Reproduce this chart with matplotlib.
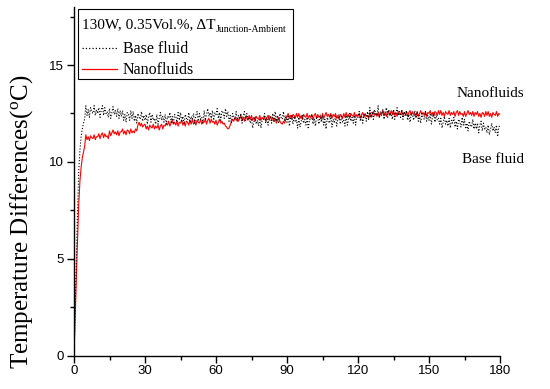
import numpy as np
import matplotlib
matplotlib.use("Agg")
import matplotlib.pyplot as plt
from matplotlib.lines import Line2D
from matplotlib.patches import Rectangle
from matplotlib.transforms import Affine2D

plt.rcParams['mathtext.fontset'] = 'custom'
plt.rcParams['mathtext.rm'] = 'Liberation Serif'
plt.rcParams['mathtext.it'] = 'Liberation Serif:italic'

sample_interval = 0.5  # seconds between samples

# Base fluid temperature difference, 0.5 s sampling, 0..180 s
base_fluid = [
    0.0, 2.5, 5.0, 7.5, 9.5, 10.6, 11.3, 11.7, 12.0, 12.2,
    12.9, 12.4, 12.7, 12.3, 12.8, 12.6, 12.5, 12.9, 12.4, 12.7,
    12.5, 12.8, 12.3, 12.7, 12.9, 12.4, 12.8, 12.5, 12.6, 12.3,
    12.75, 12.25, 12.55, 12.85, 12.45, 12.65, 12.35, 12.75, 12.25, 12.65,
    12.35, 12.65, 12.15, 12.45, 12.05, 12.55, 12.45, 12.15, 12.65, 12.25,
    12.6, 12.1, 12.4, 12.0, 12.5, 12.3, 12.2, 12.6, 12.1, 12.4,
    12.15, 12.45, 11.95, 12.35, 12.55, 12.05, 12.45, 12.15, 12.25, 11.95,
    12.45, 11.95, 12.25, 12.55, 12.15, 12.35, 12.05, 12.45, 11.95, 12.35,
    12.25, 12.55, 12.05, 12.35, 11.95, 12.45, 12.35, 12.05, 12.55, 12.15,
    12.55, 12.05, 12.35, 11.95, 12.45, 12.25, 12.15, 12.55, 12.05, 12.35,
    12.2, 12.5, 12.0, 12.4, 12.6, 12.1, 12.5, 12.2, 12.3, 12.0,
    12.65, 12.15, 12.45, 12.75, 12.35, 12.55, 12.25, 12.65, 12.15, 12.55,
    12.45, 12.75, 12.25, 12.55, 12.15, 12.65, 12.55, 12.25, 12.75, 12.35,
    12.6, 12.1, 12.4, 12.0, 12.5, 12.3, 12.2, 12.6, 12.1, 12.4,
    12.2, 12.5, 12.0, 12.4, 12.6, 12.1, 12.5, 12.2, 12.3, 12.0,
    12.25, 11.75, 12.05, 12.35, 11.95, 12.15, 11.85, 12.25, 11.75, 12.15,
    12.2, 12.5, 12.0, 12.3, 11.9, 12.4, 12.3, 12.0, 12.5, 12.1,
    12.6, 12.1, 12.4, 12.0, 12.5, 12.3, 12.2, 12.6, 12.1, 12.4,
    12.05, 12.35, 11.85, 12.25, 12.45, 11.95, 12.35, 12.05, 12.15, 11.75,
    12.3, 11.8, 12.1, 12.4, 12.0, 12.2, 11.9, 12.3, 11.7, 12.2,
    12.15, 12.45, 11.95, 12.25, 11.85, 12.35, 12.25, 11.95, 12.45, 12.05,
    12.4, 11.9, 12.2, 11.7, 12.3, 12.1, 12.0, 12.4, 11.8, 12.2,
    12.05, 12.35, 11.85, 12.25, 12.45, 11.95, 12.35, 12.05, 12.15, 11.85,
    12.4, 11.9, 12.2, 12.5, 12.1, 12.3, 12.0, 12.4, 11.9, 12.3,
    12.3, 12.6, 12.1, 12.4, 12.0, 12.5, 12.4, 12.1, 12.6, 12.2,
    12.8, 12.3, 12.6, 12.2, 12.7, 12.5, 12.4, 12.9, 12.3, 12.6,
    12.4, 12.7, 12.2, 12.6, 12.8, 12.3, 12.7, 12.4, 12.5, 12.2,
    12.7, 12.2, 12.5, 12.8, 12.4, 12.6, 12.3, 12.7, 12.2, 12.6,
    12.35, 12.65, 12.15, 12.45, 12.05, 12.55, 12.45, 12.15, 12.65, 12.25,
    12.6, 12.1, 12.4, 12.0, 12.5, 12.3, 12.2, 12.6, 12.1, 12.4,
    12.15, 12.45, 11.95, 12.35, 12.55, 12.05, 12.45, 12.15, 12.25, 11.95,
    12.25, 11.75, 12.05, 12.35, 11.95, 12.15, 11.85, 12.25, 11.75, 12.15,
    12.0, 12.3, 11.8, 12.1, 11.7, 12.2, 12.1, 11.8, 12.3, 11.9,
    12.2, 11.7, 12.0, 11.6, 12.1, 11.9, 11.8, 12.2, 11.7, 12.0,
    11.7, 12.0, 11.5, 11.9, 12.1, 11.6, 12.0, 11.7, 11.8, 11.5,
    11.9, 11.4, 11.7, 12.0, 11.6, 11.8, 11.5, 11.9, 11.3, 11.8,
    11.9,
]

# Nanofluid temperature difference, 0.5 s sampling, 0..180 s
nanofluid = [
    0.0, 2.0, 4.0, 6.0, 7.8, 9.0, 9.7, 10.2, 10.5, 10.8,
    11.4, 11.15, 11.3, 11.1, 11.35, 11.25, 11.2, 11.4, 11.15, 11.3,
    11.3, 11.45, 11.2, 11.4, 11.5, 11.25, 11.45, 11.3, 11.35, 11.2,
    11.6, 11.35, 11.5, 11.65, 11.45, 11.55, 11.4, 11.6, 11.35, 11.55,
    11.55, 11.7, 11.45, 11.6, 11.4, 11.65, 11.6, 11.45, 11.7, 11.5,
    11.6, 11.5, 11.7, 11.6, 11.9, 12.05, 11.85, 12.0, 11.8, 11.9,
    11.95, 11.7, 11.85, 11.65, 11.9, 11.8, 11.75, 11.95, 11.7, 11.85,
    11.75, 11.9, 11.65, 11.85, 11.95, 11.7, 11.9, 11.85, 12.0, 11.9,
    12.1, 11.85, 12.0, 12.15, 11.95, 12.05, 11.9, 12.1, 11.85, 12.05,
    12.0, 12.15, 11.9, 12.05, 11.85, 12.1, 12.05, 11.9, 12.15, 11.95,
    12.2, 11.95, 12.1, 11.9, 12.15, 12.05, 12.0, 12.2, 11.95, 12.1,
    12.05, 12.2, 11.95, 12.15, 12.25, 12.0, 12.2, 12.05, 12.1, 11.95,
    12.15, 11.9, 12.05, 12.2, 12.0, 12.1, 11.95, 12.0, 11.85, 11.8,
    11.7, 11.75, 11.9, 12.05, 12.2, 12.1, 12.3, 12.15, 12.25, 12.1,
    12.25, 12.4, 12.15, 12.3, 12.1, 12.35, 12.3, 12.15, 12.4, 12.2,
    12.4, 12.15, 12.3, 12.1, 12.35, 12.25, 12.2, 12.4, 12.15, 12.3,
    12.2, 12.35, 12.1, 12.3, 12.4, 12.15, 12.35, 12.2, 12.25, 12.1,
    12.25, 12.0, 12.15, 12.3, 12.1, 12.0, 11.95, 12.1, 12.0, 12.2,
    12.35, 12.5, 12.25, 12.4, 12.2, 12.45, 12.4, 12.25, 12.5, 12.3,
    12.5, 12.25, 12.4, 12.2, 12.45, 12.35, 12.3, 12.5, 12.25, 12.4,
    12.3, 12.45, 12.2, 12.4, 12.5, 12.25, 12.45, 12.3, 12.35, 12.2,
    12.5, 12.25, 12.4, 12.55, 12.35, 12.45, 12.3, 12.5, 12.25, 12.45,
    12.35, 12.5, 12.25, 12.4, 12.2, 12.45, 12.4, 12.25, 12.5, 12.3,
    12.55, 12.3, 12.45, 12.25, 12.5, 12.4, 12.35, 12.55, 12.3, 12.45,
    12.35, 12.5, 12.25, 12.45, 12.55, 12.3, 12.5, 12.35, 12.4, 12.25,
    12.55, 12.3, 12.45, 12.6, 12.4, 12.5, 12.35, 12.55, 12.3, 12.5,
    12.5, 12.65, 12.4, 12.55, 12.35, 12.6, 12.55, 12.4, 12.65, 12.45,
    12.65, 12.4, 12.55, 12.35, 12.6, 12.5, 12.45, 12.65, 12.4, 12.55,
    12.45, 12.6, 12.35, 12.55, 12.65, 12.4, 12.6, 12.45, 12.5, 12.35,
    12.6, 12.35, 12.5, 12.65, 12.45, 12.55, 12.4, 12.6, 12.35, 12.55,
    12.5, 12.65, 12.4, 12.55, 12.35, 12.6, 12.55, 12.4, 12.65, 12.45,
    12.65, 12.4, 12.55, 12.35, 12.6, 12.5, 12.45, 12.65, 12.4, 12.55,
    12.45, 12.6, 12.35, 12.55, 12.65, 12.4, 12.6, 12.45, 12.5, 12.35,
    12.6, 12.35, 12.5, 12.65, 12.45, 12.55, 12.4, 12.6, 12.35, 12.55,
    12.45, 12.6, 12.35, 12.5, 12.3, 12.55, 12.5, 12.35, 12.6, 12.4,
    12.6, 12.35, 12.5, 12.3, 12.55, 12.45, 12.4, 12.6, 12.35, 12.5,
    12.45,
]

time_base = np.arange(len(base_fluid)) * sample_interval
time_nano = np.arange(len(nanofluid)) * sample_interval

x_ticks = [0, 30, 60, 90, 120, 150, 180]
y_ticks = [0, 5, 10, 15]
series_labels = ['Base fluid', 'Nanofluids']
legend_title = '130W, 0.35Vol.%, \u0394T'
legend_subscript = 'Junction-Ambient'

serif = ['Liberation Serif', 'DejaVu Serif']
tickfont = ['Liberation Sans', 'DejaVu Sans']

W, H = 550, 389
fig = plt.figure(figsize=(W/100, H/100), dpi=100)
ax = fig.add_axes([74/W, 1-355.5/H, 426/W, 348.5/H])

ax.plot(time_nano, nanofluid, color='red', lw=0.8, zorder=2)
ax.plot(time_base, base_fluid, color='black', lw=0.8, ls=':', zorder=3)

ax.set_xlim(0, 180)
ax.set_ylim(0, 18)
ax.set_xticks(x_ticks)
ax.set_xticks([15, 45, 75, 105, 135, 165], minor=True)
ax.set_yticks(y_ticks)
ax.set_yticks([2.5, 7.5, 12.5, 17.5], minor=True)
ax.spines['top'].set_visible(False)
ax.spines['right'].set_visible(False)
for s in ('left', 'bottom'):
    ax.spines[s].set_linewidth(1.0)
ax.tick_params(which='major', direction='out', length=5, width=1.0, pad=2)
ax.tick_params(which='minor', direction='out', length=3, width=1.0)
for lab in ax.get_xticklabels() + ax.get_yticklabels():
    lab.set_family(tickfont)
    lab.set_fontsize(9.5)

ax.set_ylabel('Temperature Differences($\\mathregular{^{o}}$C)', family=serif, fontsize=18)
ax.yaxis.set_label_coords(35/W, (H-222)/H, transform=fig.transFigure)

# legend box (pixel-positioned)
px = Affine2D().scale(1, -1).translate(0, H) + fig.dpi_scale_trans.inverted().inverted() if False else None
def fx(x):
    return x / W
def fy(y):
    return 1 - y / H

frame = Rectangle((fx(78), fy(79)), (293-78)/W, (79-9)/H, transform=fig.transFigure,
                  facecolor='white', edgecolor='black', lw=0.8, zorder=5)
fig.add_artist(frame)
t_main = fig.text(fx(82), fy(28), legend_title, family=serif, fontsize=11,
                  ha='left', va='baseline', zorder=6)
fig.canvas.draw()
bb = t_main.get_window_extent()
fig.text(bb.x1/W + 0.5/W, fy(31.5), legend_subscript, family=serif, fontsize=7,
         ha='left', va='baseline', zorder=6)
fig.add_artist(Line2D([fx(82), fx(117)], [fy(48), fy(48)], transform=fig.transFigure,
                      color='black', lw=0.9, ls=':', zorder=6))
fig.add_artist(Line2D([fx(82), fx(117)], [fy(69), fy(69)], transform=fig.transFigure,
                      color='red', lw=0.9, zorder=6))
fig.text(fx(123), fy(53), series_labels[0], family=serif, fontsize=11.5,
         ha='left', va='baseline', zorder=6)
fig.text(fx(123), fy(74.5), series_labels[1], family=serif, fontsize=11.5,
         ha='left', va='baseline', zorder=6)

ax.text(190, 13.35, 'Nanofluids', family=serif, fontsize=11, ha='right', va='baseline', clip_on=False)
ax.text(190, 9.94, 'Base fluid', family=serif, fontsize=11, ha='right', va='baseline', clip_on=False)

fig.savefig('out.png', dpi=100)
